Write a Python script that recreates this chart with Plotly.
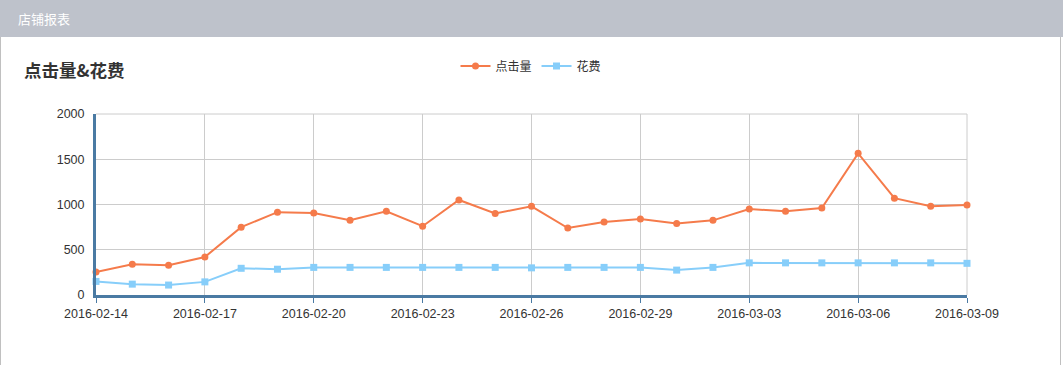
import plotly.graph_objects as go
import pandas as pd

dates = pd.date_range("2016-02-14", "2016-03-09", freq="D").strftime("%Y-%m-%d").tolist()
clicks = [254, 340, 330, 420, 750, 915, 905, 825, 925, 760, 1050, 900, 980, 740, 806,
          840, 790, 825, 950, 925, 960, 1565, 1070, 980, 995]
cost = [150, 120, 110, 145, 295, 285, 305, 305, 305, 305, 305, 305, 300, 305, 305,
        305, 275, 305, 355, 355, 355, 355, 355, 355, 350]
series_names = ["点击量", "花费"]
title_text = "点击量&花费"
header_text = "店铺报表"

W, H = 1063, 365
L, R, T, B = 96, 96, 114, 70
pw, ph = W - L - R, H - T - B

def px(x):
    return (x - L) / pw

def py(y):
    return (H - B - y) / ph

FONT = "Liberation Sans, Arial, Noto Sans CJK SC, sans-serif"
AXIS = "#4a7aa3"

fig = go.Figure()
fig.add_trace(go.Scatter(
    x=dates, y=clicks, name=series_names[0], mode="lines+markers",
    line=dict(color="#f57b4b", width=2), marker=dict(symbol="circle", size=7, color="#f57b4b"),
    cliponaxis=False))
fig.add_trace(go.Scatter(
    x=dates, y=cost, name=series_names[1], mode="lines+markers",
    line=dict(color="#87cefa", width=2), marker=dict(symbol="square", size=7, color="#87cefa"),
    cliponaxis=False))

fig.update_layout(
    width=W, height=H,
    margin=dict(l=L, r=R, t=T, b=B, pad=0),
    paper_bgcolor="white", plot_bgcolor="white",
    font=dict(family=FONT, size=12, color="#333"),
    showlegend=True,
    legend=dict(orientation="h", x=px(531), xanchor="center", y=py(66), yanchor="middle",
                font=dict(size=12, color="#333", family="Noto Sans CJK SC, sans-serif"),
                itemwidth=30, bgcolor="rgba(0,0,0,0)"),
    xaxis=dict(
        type="date", range=[dates[0], dates[-1]],
        tick0=dates[0], dtick=3 * 86400000, tickformat="%Y-%m-%d",
        showgrid=True, gridcolor="#cccccc", gridwidth=1,
        showline=True, linecolor=AXIS, linewidth=3,
        ticks="outside", ticklen=5, tickcolor=AXIS, tickwidth=1,
        tickfont=dict(size=12.5, color="#333"), zeroline=False,
    ),
    yaxis=dict(
        range=[0, 2000], dtick=500, tick0=0,
        showgrid=True, gridcolor="#cccccc", gridwidth=1,
        showline=True, linecolor=AXIS, linewidth=3,
        ticks="", tickfont=dict(size=12.5, color="#333"), zeroline=False,
        ticklabelstandoff=6,
    ),
    shapes=[
        dict(type="rect", xref="paper", yref="paper", x0=px(0), x1=px(W), y0=py(37), y1=py(0),
             fillcolor="#bec2cb", line=dict(width=0), layer="below"),
        dict(type="line", xref="paper", yref="paper", x0=px(0.5), x1=px(0.5), y0=py(37), y1=py(H),
             line=dict(color="#c0c0c0", width=1)),
        dict(type="line", xref="paper", yref="paper", x0=px(1060.5), x1=px(1060.5), y0=py(37), y1=py(H),
             line=dict(color="#c0c0c0", width=1)),
        dict(type="line", xref="paper", yref="paper", x0=0, x1=1, y0=1, y1=1,
             line=dict(color="#cccccc", width=1), layer="below"),
        dict(type="line", xref="paper", yref="paper", x0=1, x1=1, y0=0, y1=1,
             line=dict(color="#cccccc", width=1), layer="below"),
    ],
    annotations=[
        dict(text=header_text, xref="paper", yref="paper", x=px(16), y=py(18),
             xanchor="left", yanchor="middle", showarrow=False,
             font=dict(size=13, color="white", family="Noto Sans CJK SC, sans-serif")),
        dict(text="<b>" + title_text + "</b>", xref="paper", yref="paper", x=px(22), y=py(69),
             xanchor="left", yanchor="middle", showarrow=False,
             font=dict(size=17.5, color="#333", family="Noto Sans CJK SC, sans-serif")),
    ],
)

fig.write_html("out.html", config={"displayModeBar": False},
               post_script="document.body.style.margin='0';document.body.style.overflow='hidden';")
